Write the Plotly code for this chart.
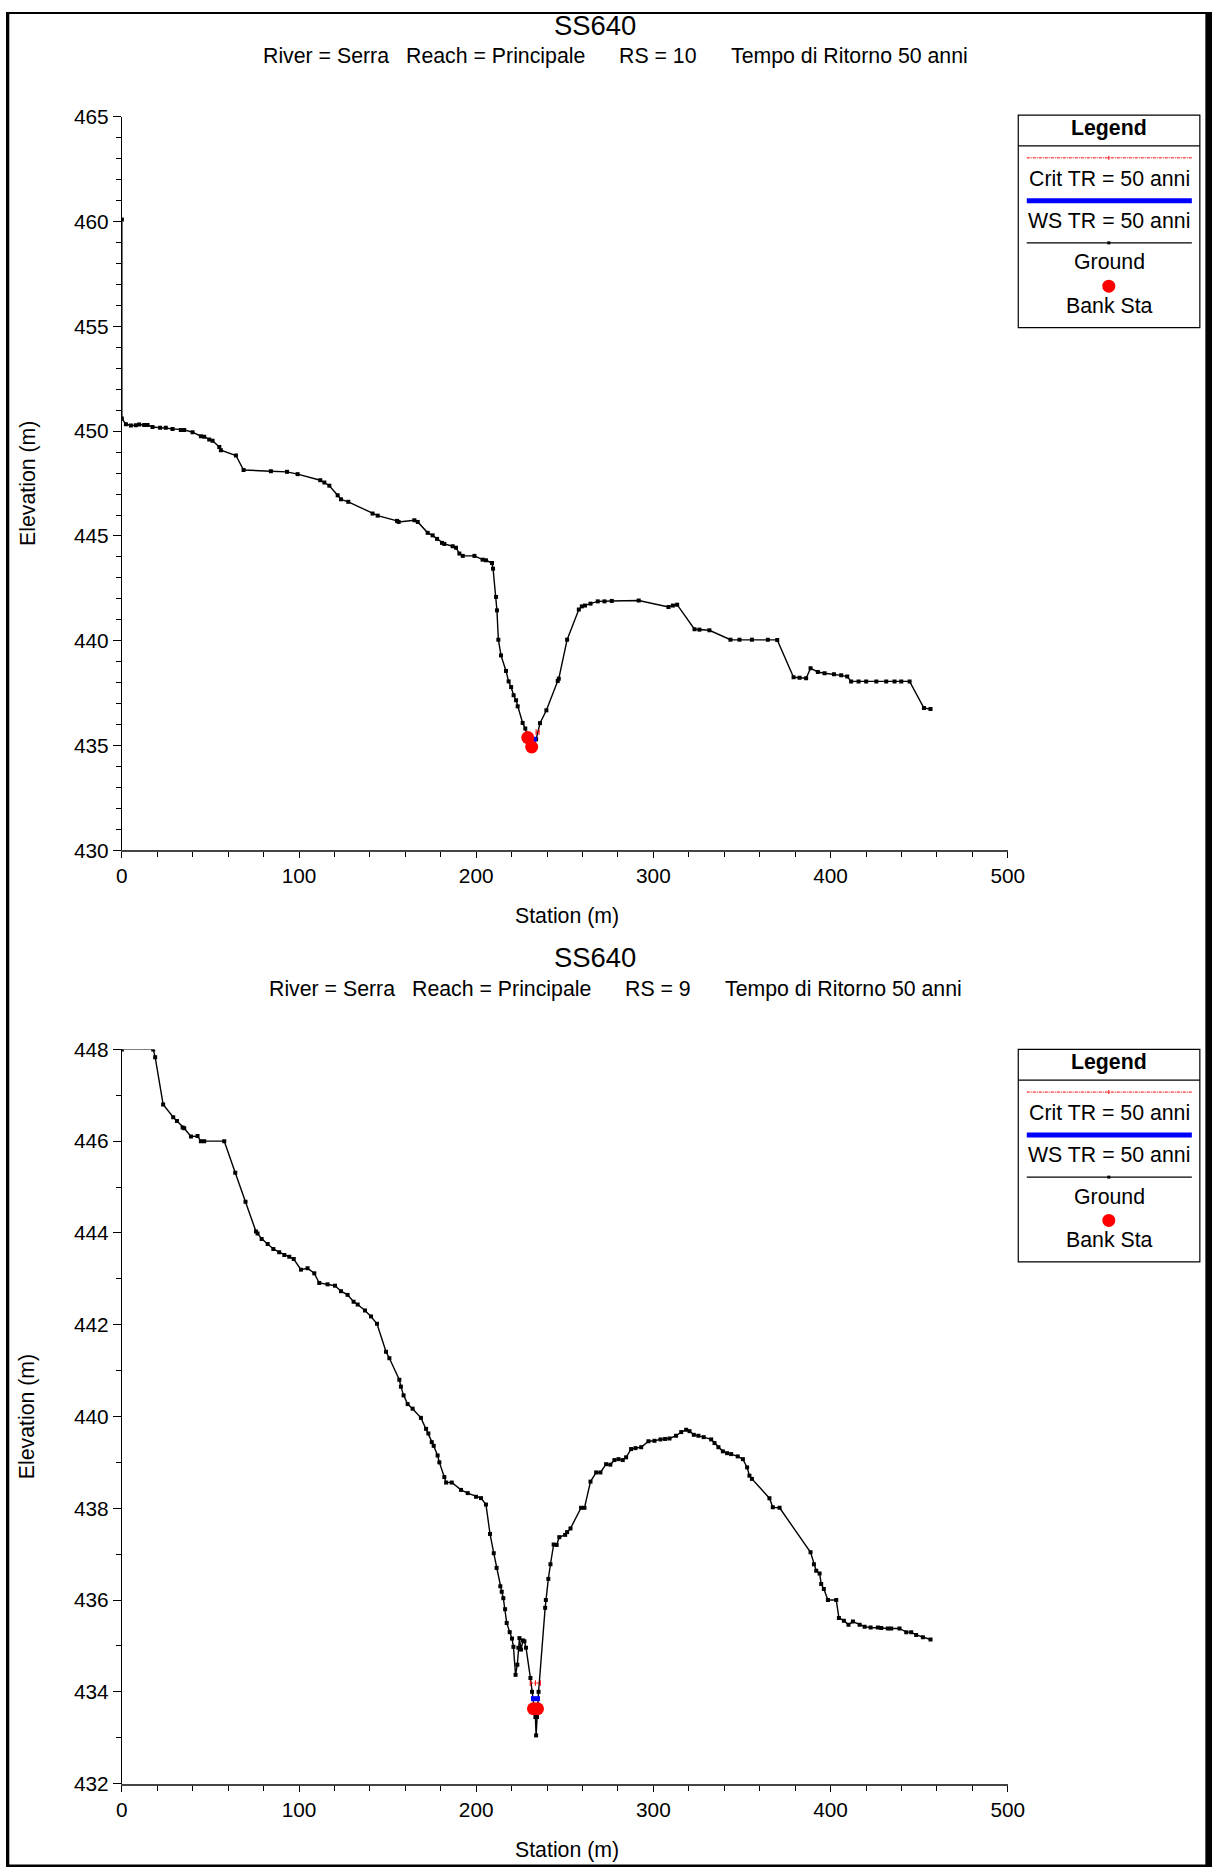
import plotly.graph_objects as go

# target picture size and page figure size
W, H = 1212, 1867
FW, FH = 1240, 1895
# observed page->photo mapping (compensated below)
SX, SY, OX, OY = 0.981, 0.9876, 5.2, 11.9
FS = 1.0 / 0.985
FONT = "Liberation Sans, Arial, sans-serif"

# ---------------- data: RS = 10 ----------------
rs10_station = [0, 0, 2.3, 5.1, 7.9, 9.8, 12.6, 14.5, 17.3, 21.6,
                24.8, 28.6, 33.3, 35.2, 39.9, 44.6, 46.5, 49.3, 51.2, 55.0,
                55.9, 64.4, 68.7, 84.1, 93.2, 99.2, 112.0, 114.3, 117.1, 121.8,
                123.7, 127.8, 141.5, 144.4, 155.3, 156.2, 165.1, 167.0, 172.6, 175.4,
                177.9, 180.7, 182.0, 186.7, 188.6, 190.5, 192.4, 199.0, 203.6, 205.5,
                208.9, 209.5, 211.2, 211.7, 212.5, 214.0, 216.8, 218.3, 219.7, 221.1,
                222.5, 223.4, 226.2, 227.7, 229.1, 231.3, 233.8, 236.0, 239.6, 246.0,
                246.6, 251.3, 257.9, 259.6, 261.4, 264.5, 268.6, 272.4, 276.5, 291.7,
                308.5, 311.0, 313.4, 323.2, 326.0, 331.6, 343.5, 348.6, 355.6, 364.6,
                369.9, 379.1, 382.5, 386.2, 388.7, 392.8, 396.6, 401.9, 406.0, 409.4,
                411.6, 415.8, 420.1, 425.8, 431.4, 436.1, 439.9, 444.6, 452.7, 456.4]
rs10_elev = [460.1, 450.6, 450.33, 450.27, 450.28, 450.32, 450.30, 450.30, 450.2, 450.16,
             450.16, 450.11, 450.06, 450.06, 449.95, 449.76, 449.73, 449.6, 449.54, 449.25,
             449.09, 448.84, 448.15, 448.09, 448.06, 447.95, 447.66, 447.55, 447.40, 446.94,
             446.75, 446.63, 446.07, 445.97, 445.72, 445.67, 445.75, 445.67, 445.15, 445.03,
             444.86, 444.67, 444.62, 444.51, 444.44, 444.16, 444.05, 444.05, 443.87, 443.84,
             443.71, 443.44, 442.09, 441.45, 440.05, 439.30, 438.56, 438.06, 437.79, 437.40,
             437.16, 436.87, 436.08, 435.81, 435.38, 434.93, 435.3, 436.07, 436.68, 438.08,
             438.19, 440.05, 441.49, 441.64, 441.68, 441.77, 441.88, 441.88, 441.9, 441.92,
             441.61, 441.68, 441.72, 440.55, 440.53, 440.5, 440.05, 440.05, 440.05, 440.05,
             440.04, 438.26, 438.24, 438.21, 438.69, 438.51, 438.45, 438.4, 438.35, 438.29,
             438.06, 438.06, 438.06, 438.06, 438.06, 438.06, 438.06, 438.06, 436.79, 436.74]
rs10_crit_x = [233.8, 235.5]
rs10_crit_y = [435.64, 435.64]
rs10_ws_x = [228.6, 234.2]
rs10_ws_y = [435.3, 435.3]
rs10_bank_x = [229.1, 231.3]
rs10_bank_y = [435.38, 434.93]

# ---------------- data: RS = 9 ----------------
rs9_station = [0, 17.7, 18.8, 23.3, 29.0, 31.1, 34.3, 35.2, 39.0, 42.7,
               44.6, 46.5, 57.8, 64.0, 69.8, 75.7, 76.6, 78.9, 82.3, 85.5,
               88.8, 91.7, 94.5, 97.0, 101.1, 104.8, 108.6, 111.4, 116.1, 120.3,
               123.7, 127.4, 130.8, 133.1, 137.2, 140.6, 144.0, 149.1, 151.0, 156.6,
               157.5, 159.0, 161.3, 164.1, 168.8, 171.7, 173.0, 174.9, 176.0, 178.2,
               179.2, 182.0, 183.0, 186.2, 191.4, 195.2, 199.9, 202.7, 205.5, 207.8,
               209.9, 211.5, 213.6, 214.4, 215.3, 216.3, 217.2, 218.9, 220.2, 221.0,
               222.2, 223.2, 223.8, 224.4, 225.3, 226.4, 227.2, 228.1, 230.6, 231.5,
               232.3, 233.4, 233.8, 234.3, 235.2, 238.9, 239.3, 240.7, 241.9, 243.7,
               245.4, 246.9, 250.2, 251.3, 253.2, 259.2, 261.1, 264.5, 267.7, 270.1,
               273.3, 275.7, 278.0, 280.3, 282.7, 284.6, 287.4, 289.9, 293.1, 297.2,
               300.6, 304.0, 306.6, 309.1, 312.8, 315.7, 318.5, 320.4, 322.8, 325.4,
               328.4, 332.6, 334.5, 336.7, 339.2, 341.6, 343.9, 347.6, 350.5, 352.9,
               354.2, 355.6, 365.5, 367.4, 371.2, 388.7, 390.6, 391.9, 393.8, 394.7,
               396.2, 398.5, 403.2, 404.7, 407.5, 410.1, 412.6, 416.4, 419.2, 422.6,
               426.7, 428.6, 432.3, 434.2, 438.9, 442.7, 445.5, 448.3, 452.1, 456.4]
rs9_elev = [448.0, 448.0, 447.83, 446.8, 446.52, 446.44, 446.3, 446.28, 446.1, 446.11,
            446.0, 446.0, 446.0, 445.31, 444.68, 444.03, 443.99, 443.87, 443.76, 443.65,
            443.58, 443.52, 443.48, 443.43, 443.2, 443.23, 443.12, 442.91, 442.88, 442.85,
            442.73, 442.65, 442.5, 442.44, 442.31, 442.18, 442.02, 441.41, 441.27, 440.8,
            440.65, 440.46, 440.27, 440.17, 439.97, 439.73, 439.63, 439.44, 439.36, 439.15,
            439.0, 438.68, 438.56, 438.56, 438.4, 438.33, 438.25, 438.22, 438.08, 437.44,
            437.02, 436.7, 436.3, 436.18, 436.04, 435.8, 435.5, 435.3, 435.16, 434.98,
            434.37, 434.59, 434.96, 435.17, 434.92, 435.12, 435.1, 434.96, 434.3, 434.0,
            433.7, 433.45, 433.05, 433.45, 434.0, 435.83, 436.0, 436.46, 436.78, 437.21,
            437.2, 437.37, 437.42, 437.48, 437.56, 438.01, 438.01, 438.58, 438.78, 438.78,
            438.96, 438.95, 439.05, 439.07, 439.05, 439.11, 439.29, 439.31, 439.33, 439.46,
            439.47, 439.5, 439.51, 439.52, 439.58, 439.66, 439.71, 439.68, 439.6, 439.58,
            439.55, 439.5, 439.42, 439.33, 439.24, 439.2, 439.18, 439.13, 439.07, 438.89,
            438.71, 438.64, 438.22, 438.02, 438.01, 437.04, 436.78, 436.64, 436.58, 436.35,
            436.24, 436.0, 436.0, 435.61, 435.55, 435.46, 435.53, 435.46, 435.42, 435.4,
            435.4, 435.39, 435.38, 435.38, 435.38, 435.3, 435.3, 435.24, 435.19, 435.14]
rs9_crit_x = [230.5, 233.4, 236.2]
rs9_crit_y = [434.19, 434.19, 434.19]
rs9_ws_x = [230.9, 236.0]
rs9_ws_y = [433.85, 433.85]
rs9_bank_x = [232.3, 234.6]
rs9_bank_y = [433.63, 433.63]

x_ticks = [0, 100, 200, 300, 400, 500]
rs10_yticks = [430, 435, 440, 445, 450, 455, 460, 465]
rs9_yticks = [432, 434, 436, 438, 440, 442, 444, 446, 448]

titles = ["SS640", "SS640"]
sub10 = ["River = Serra", "Reach = Principale", "RS = 10", "Tempo di Ritorno 50 anni"]
sub9 = ["River = Serra", "Reach = Principale", "RS = 9", "Tempo di Ritorno 50 anni"]
legend_labels = ["Crit TR = 50 anni", "WS TR = 50 anni", "Ground", "Bank Sta"]

assert len(rs10_station) == len(rs10_elev)
assert len(rs9_station) == len(rs9_elev)


def X(tx):
    """target picture x (px) -> paper fraction of the page figure"""
    return max(0.0, (tx - OX) / SX) / FW


def Y(ty):
    return 1 - max(0.0, (ty - OY) / SY) / FH


fig = go.Figure()

panels = [
    dict(xa="x", ya="y", sta=rs10_station, el=rs10_elev, cx=rs10_crit_x, cy=rs10_crit_y,
         wx=rs10_ws_x, wy=rs10_ws_y, bx=rs10_bank_x, by=rs10_bank_y),
    dict(xa="x2", ya="y2", sta=rs9_station, el=rs9_elev, cx=rs9_crit_x, cy=rs9_crit_y,
         wx=rs9_ws_x, wy=rs9_ws_y, bx=rs9_bank_x, by=rs9_bank_y),
]
for p in panels:
    fig.add_trace(go.Scatter(x=p["sta"], y=p["el"], xaxis=p["xa"], yaxis=p["ya"],
                             mode="lines+markers", line=dict(color="black", width=1.4),
                             marker=dict(color="black", size=4, symbol="square"),
                             showlegend=False, hoverinfo="skip"))
    fig.add_trace(go.Scatter(x=p["wx"], y=p["wy"], xaxis=p["xa"], yaxis=p["ya"],
                             mode="lines", line=dict(color="#0000ff", width=5),
                             showlegend=False, hoverinfo="skip"))
    fig.add_trace(go.Scatter(x=p["cx"], y=p["cy"], xaxis=p["xa"], yaxis=p["ya"],
                             mode="lines+markers", line=dict(color="#ff0000", width=1, dash="3px,1px,1px,1px"),
                             marker=dict(color="#ff0000", size=4, symbol="line-ns-open", line=dict(width=1, color="#ff0000")),
                             showlegend=False, hoverinfo="skip"))
    fig.add_trace(go.Scatter(x=p["bx"], y=p["by"], xaxis=p["xa"], yaxis=p["ya"],
                             mode="markers", marker=dict(color="#ff0000", size=13),
                             showlegend=False, hoverinfo="skip"))

xdom = [X(121), X(1006.5)]
tickfont = dict(family=FONT, size=20.5 * FS, color="black")
common_x = dict(range=[0, 500], tickvals=x_ticks, ticks="outside", ticklen=6, tickwidth=1,
                tickcolor="black", showline=True, linecolor="#444", linewidth=2,
                showgrid=False, zeroline=False, tickfont=tickfont,
                minor=dict(dtick=20, ticks="outside", ticklen=5, tickcolor="black", showgrid=False))
common_y = dict(ticks="outside", ticklen=8, tickwidth=1, tickcolor="black", showline=True,
                linecolor="black", linewidth=1, showgrid=False, zeroline=False, tickfont=tickfont,
                minor=dict(dtick=1, ticks="outside", ticklen=5, tickcolor="black", showgrid=False))

fig.update_layout(
    xaxis=dict(domain=xdom, anchor="y", **common_x),
    yaxis=dict(domain=[Y(850), Y(116.7)], anchor="x", range=[430, 465], tickvals=rs10_yticks, **common_y),
    xaxis2=dict(domain=xdom, anchor="y2", **common_x),
    yaxis2=dict(domain=[Y(1783), Y(1049)], anchor="x2", range=[432, 448], tickvals=rs9_yticks, **common_y),
)

ann = []
shapes = []


def text(px, py, s, size=21, bold=False, xanchor="center", angle=0):
    ann.append(dict(x=X(px), y=Y(py), xref="paper", yref="paper", text=("<b>%s</b>" % s) if bold else s,
                    showarrow=False, xanchor=xanchor, yanchor="middle", textangle=angle,
                    font=dict(family=FONT, size=size * FS, color="black")))


# titles
text(594, 25, titles[0], size=27)
text(594, 957, titles[1], size=27)
for s, px in zip(sub10, [260, 403, 616, 728]):
    text(px, 56, s, xanchor="left")
for s, px in zip(sub9, [266, 409, 622, 722]):
    text(px, 989, s, xanchor="left")

# axis titles
text(565.5, 915.6, "Station (m)")
text(565.5, 1849, "Station (m)")
text(27, 483, "Elevation (m)", angle=-90)
text(27, 1416, "Elevation (m)", angle=-90)


def hline(x0, x1, y, color, width, dash=None):
    ln = dict(color=color, width=width)
    if dash:
        ln["dash"] = dash
    shapes.append(dict(type="line", xref="paper", yref="paper", x0=X(x0), x1=X(x1), y0=Y(y), y1=Y(y), line=ln))


def box(x0, y0, x1, y1, fill, line_color=None, lw=0, typ="rect", layer="above"):
    shapes.append(dict(type=typ, xref="paper", yref="paper", x0=X(x0), x1=X(x1), y0=Y(y1), y1=Y(y0),
                       line=dict(color=line_color or fill, width=lw), fillcolor=fill, layer=layer))


# legends
LX = -1.5
for o in [0, 934]:
    box(1018.5 + LX, 115 + o, 1200 + LX, 327.5 + o, "white", "black", 1.2, layer="below")
    hline(1018.5 + LX, 1200 + LX, 145.7 + o, "black", 1.2)
    text(1109.3 + LX, 128 + o, "Legend", bold=True)
    hline(1027 + LX, 1192 + LX, 157.7 + o, "#ff0000", 1, "3px,1px,1px,1px")
    shapes.append(dict(type="line", xref="paper", yref="paper", x0=X(1109 + LX), x1=X(1109 + LX),
                       y0=Y(155.7 + o), y1=Y(159.7 + o), line=dict(color="#ff0000", width=1)))
    text(1109.3 + LX, 179 + o, legend_labels[0])
    hline(1027 + LX, 1192 + LX, 200.7 + o, "#0000ff", 5)
    text(1109.3 + LX, 221 + o, legend_labels[1])
    hline(1027 + LX, 1192 + LX, 242.7 + o, "black", 1.2)
    box(1107.5 + LX, 241.2 + o, 1110.5 + LX, 244.2 + o, "black")
    text(1109.3 + LX, 262.3 + o, legend_labels[2])
    box(1102.5 + LX, 279.5 + o, 1115.5 + LX, 292.5 + o, "#ff0000", typ="circle")
    text(1109.3 + LX, 306 + o, legend_labels[3])

# outer frame
box(0, 0, 8.5, H, "black")
box(1204, 0, W, H, "black")
box(0, 0, W, 13.8, "black")
box(0, H - 3, W, H, "black")

fig.update_layout(width=FW, height=FH, autosize=False, margin=dict(l=0, r=0, t=0, b=0),
                  paper_bgcolor="white", plot_bgcolor="white", showlegend=False,
                  annotations=ann, shapes=shapes, font=dict(family=FONT, color="black"))

fig.write_html("out.html", config={"displayModeBar": False, "staticPlot": True},
               post_script="document.body.style.margin='0';document.body.style.padding='0';"
                           "document.body.style.overflow='hidden';"
                           "document.documentElement.style.overflow='hidden';")
